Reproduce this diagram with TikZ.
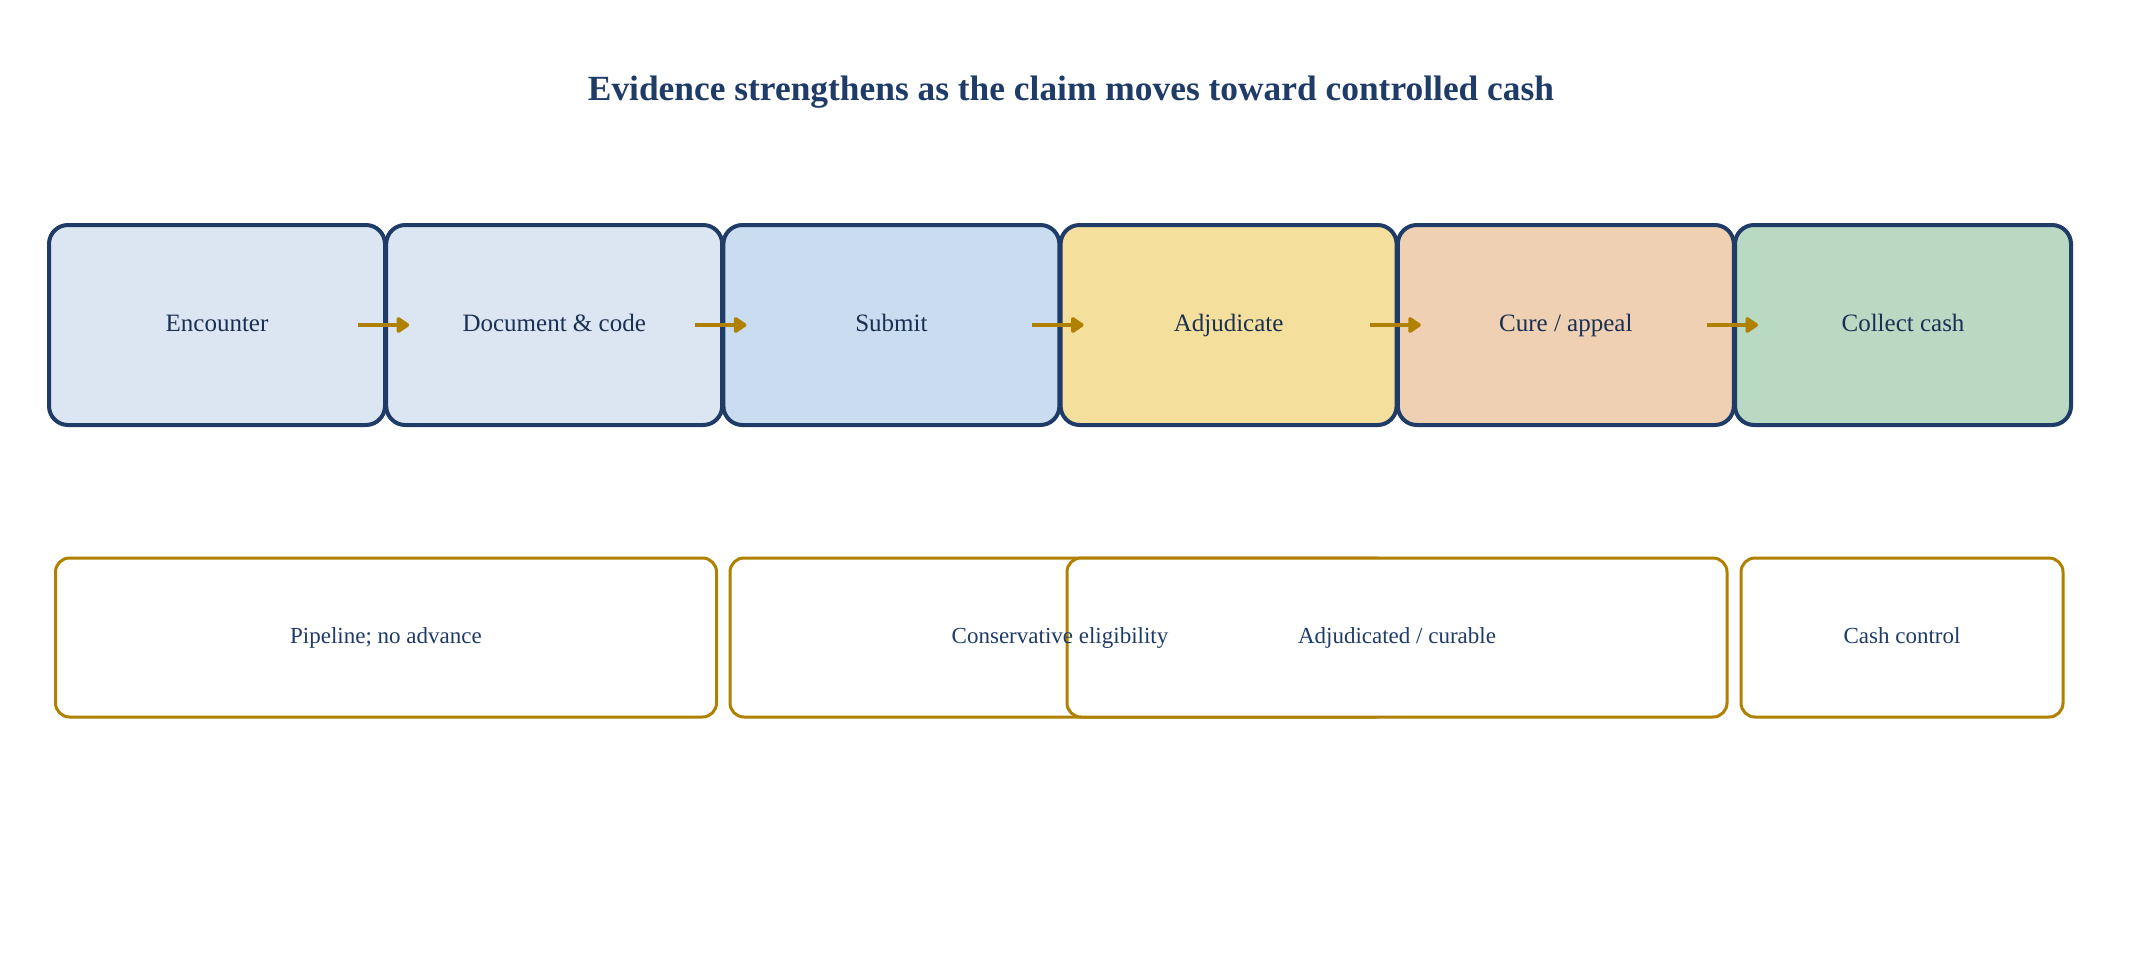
\documentclass[tikz,border=0pt]{standalone}
\usepackage{fontspec}
\setmainfont{Liberation Serif}
\usetikzlibrary{arrows.meta}
\definecolor{navy}{HTML}{1F3B68}
\definecolor{gold}{HTML}{B08000}
\definecolor{fA}{HTML}{DCE6F2}
\definecolor{fB}{HTML}{C9DCF0}
\definecolor{fC}{HTML}{F4DF9C}
\definecolor{fD}{HTML}{EFD0B3}
\definecolor{fE}{HTML}{B9D9C3}
\tikzset{
  stagebox/.style={draw=navy, line width=4pt, rounded corners=19pt, minimum width=336pt, minimum height=200pt, inner sep=0pt},
  stagetext/.style={font=\fontsize{25}{30}\selectfont, text=navy!80!black, anchor=base, inner sep=0pt, yshift=-6.7pt},
  bandbox/.style={draw=gold, line width=3pt, fill=white, rounded corners=14pt, minimum height=159pt, inner sep=0pt},
  bandtext/.style={font=\fontsize{23}{28}\selectfont, text=navy, anchor=base, inner sep=0pt, yshift=-5.8pt},
  flow/.style={draw=gold, line width=4pt, -{Triangle[length=14pt,width=18pt,round]}},
}
\begin{document}
\begin{tikzpicture}[x=1pt,y=-1pt]
\useasboundingbox (0,0) rectangle (2142,954);
\node[font=\bfseries\fontsize{35.4}{42}\selectfont, text=navy, anchor=base, inner sep=0pt] (title) at (1071,100.5) {Evidence strengthens as the claim moves toward controlled cash};
% stages
\node[stagebox, fill=fA] (s1) at (217,325) {};
\node[stagebox, fill=fA] (s2) at (554.2,325) {};
\node[stagebox, fill=fB] (s3) at (891.4,325) {};
\node[stagebox, fill=fC] (s4) at (1228.6,325) {};
\node[stagebox, fill=fD] (s5) at (1565.8,325) {};
\node[stagebox, fill=fE] (s6) at (1903,325) {};
\node[stagetext] (l1) at (s1.center) {Encounter};
\node[stagetext] (l2) at (s2.center) {Document \& code};
\node[stagetext] (l3) at (s3.center) {Submit};
\node[stagetext] (l4) at (s4.center) {Adjudicate};
\node[stagetext] (l5) at (s5.center) {Cure / appeal};
\node[stagetext] (l6) at (s6.center) {Collect cash};
% arrows
\foreach \a/\b in {s1/s2,s2/s3,s3/s4,s4/s5,s5/s6}
  \draw[flow] ([xshift=-29pt]\a.east) -- ([xshift=25pt]\b.west);
% bands
\node[bandbox, minimum width=661pt] (bA) at (386,637.5) {};
\node[bandbox, minimum width=660pt] (bB) at (1060,637.5) {};
\node[bandbox, minimum width=660pt] (bC) at (1397,637.5) {};
\node[bandbox, minimum width=322pt] (bD) at (1902,637.5) {};
\node[bandtext] (tA) at (bA.center) {Pipeline; no advance};
\node[bandtext] (tB) at (bB.center) {Conservative eligibility};
\node[bandtext] (tC) at (bC.center) {Adjudicated / curable};
\node[bandtext] (tD) at (bD.center) {Cash control};
\end{tikzpicture}
\end{document}
